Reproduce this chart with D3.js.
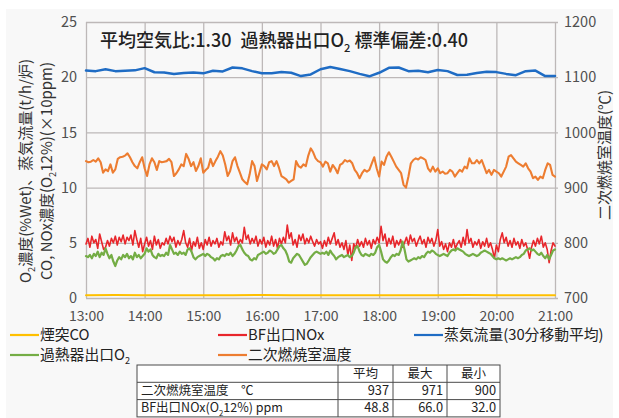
<!DOCTYPE html>
<html>
<head>
<meta charset="utf-8">
<script src="https://cdn.jsdelivr.net/npm/d3@7"></script>
<style>
  html, body { margin: 0; padding: 0; background: #ffffff; }
  svg { display: block; }
  text { font-family: "Noto Sans CJK JP", "Noto Sans", sans-serif; }
</style>
</head>
<body>
<svg id="chart" width="619" height="418"></svg>
<script>
// ---- data -------------------------------------------------------------
const hourLabels = ["13:00", "14:00", "15:00", "16:00", "17:00", "18:00", "19:00", "20:00", "21:00"];
const leftTicks = [0, 5, 10, 15, 20, 25];
const rightTicks = [700, 800, 900, 1000, 1100, 1200];

// 二次燃焼室温度 (℃), every 2.5 min from 13:00
const tempStep = 2.5;
const tempC = [
  948, 946, 947, 950, 947, 953, 946, 927, 933, 930, 942, 927, 933, 952, 955, 956, 958, 962, 955, 946,
  939, 935, 946, 955, 935, 921, 942, 953, 946, 932, 948, 946, 947, 948, 952, 946, 921, 926, 933, 942,
  939, 961, 952, 939, 946, 930, 939, 953, 927, 932, 936, 952, 939, 948, 956, 966, 958, 942, 921, 930,
  948, 955, 939, 927, 915, 910, 906, 924, 948, 939, 912, 927, 942, 939, 933, 946, 948, 939, 948, 936,
  921, 918, 915, 909, 912, 915, 948, 939, 936, 942, 939, 958, 971, 964, 953, 948, 946,
  938, 947, 944, 929, 941, 935, 926, 941, 944, 950, 947, 949, 944, 932, 926, 917, 926, 932, 929, 932,
  944, 955, 935, 920, 947, 941, 956, 964, 956, 947, 938, 932, 926, 905, 900, 920, 944, 950, 953, 951,
  955, 953, 950, 935, 929, 938, 929, 935, 926, 929, 925, 926, 932, 929, 920, 926, 932, 929, 938, 935,
  953, 944, 944, 950, 944, 950, 938, 926, 932, 923, 932, 929, 926, 920, 929, 938, 956, 959, 953, 947,
  944, 941, 938, 944, 935, 929, 917, 920, 914, 920, 917, 932, 944, 941, 923, 920
];

// BF出口NOx (×10 ppm, O2 12%), every 2 min
const noxStep = 2;
const noxX10 = [
  4.9, 5.4, 4.6, 5.6, 5.0, 5.3, 4.5, 5.8, 5.1, 4.4, 4.6,
  5.2, 4.7, 5.4, 5.0, 5.6, 4.8, 5.5, 5.1, 5.7, 4.9,
  5.5, 5.2, 5.7, 4.8, 6.1, 5.3, 4.6, 5.4, 4.2, 4.9,
  5.5, 4.7, 5.2, 4.4, 5.6, 4.8, 5.3, 4.5, 5.0, 4.8,
  5.4, 4.9, 5.6, 5.1, 5.5, 4.6, 5.2, 4.8, 5.3, 6.1,
  5.0, 4.6, 5.4, 4.3, 5.1, 4.7, 5.5, 4.5, 5.0, 4.4,
  5.3, 4.8, 5.5, 4.7, 5.2, 4.9, 5.4, 4.6, 5.1, 4.8,
  6.0, 5.2, 5.6, 4.8, 5.9, 5.1, 5.5, 4.9, 5.3, 5.0,
  6.4, 5.3, 5.7, 4.9, 5.4, 5.0, 5.6, 4.7, 5.3, 4.9,
  5.5, 4.6, 5.2, 4.8, 5.6, 4.7, 5.3, 4.5, 5.4, 4.9,
  5.5, 5.0, 6.6, 5.4, 5.9, 4.8, 5.3, 4.6, 5.7, 5.2,
  5.8, 4.9, 5.4, 5.0, 5.6, 5.1, 4.7, 5.3, 4.9, 5.1,
  4.5, 5.2, 4.7, 5.5, 4.9, 5.4, 5.9, 4.8, 5.3, 4.6,
  5.0, 4.4, 5.2, 3.9, 4.8, 3.4, 4.9, 4.5, 5.3, 4.7,
  5.1, 4.6, 5.4, 4.8, 5.2, 4.5, 5.3, 4.9, 5.5, 5.0,
  6.5, 5.2, 5.8, 4.7, 5.4, 4.9, 5.6, 4.6, 5.2, 4.8,
  5.3, 4.6, 5.0, 5.5, 4.8, 5.7, 5.1, 5.4, 4.7, 5.2,
  5.6, 4.9, 5.3, 4.6, 5.5, 5.0, 5.4, 4.7, 5.2, 6.2,
  4.7, 5.1, 4.4, 4.9, 4.2, 5.0, 4.6, 5.3, 4.5, 4.9,
  5.2, 4.6, 5.5, 4.8, 6.2, 5.0, 5.4, 4.6, 5.1, 4.8,
  5.3, 4.5, 5.1, 4.7, 5.4, 4.6, 5.0, 4.4, 3.6, 4.8,
  4.2, 5.3, 5.9, 5.0, 5.5, 4.7, 5.2, 4.6, 5.4, 4.8,
  5.1, 4.5, 5.3, 4.7, 5.0, 4.4, 3.6, 4.6, 5.2, 4.7,
  5.4, 4.9, 5.6, 4.6, 5.0, 4.4, 3.2, 4.3, 5.0, 4.7
];

// 過熱器出口O2 (%Wet), every 2 min
const o2Step = 2;
const o2Pct = [
  3.8, 3.7, 3.9, 3.6, 4.0, 3.8, 4.2, 3.7, 4.1, 3.9, 4.5,
  4.0, 3.6, 3.9, 3.3, 2.9, 3.4, 3.7, 3.5, 3.9, 3.7,
  4.0, 3.6, 3.8, 3.5, 4.1, 3.7, 3.9, 3.6, 3.8, 4.0,
  4.5, 4.2, 4.4, 3.9, 3.7, 3.6, 4.0, 3.8, 3.9, 3.8,
  4.1, 3.9, 4.8, 4.4, 4.0, 4.1, 3.9, 4.2, 4.0, 4.1,
  3.9, 4.4, 4.5, 4.2, 3.7, 3.5, 3.7, 3.8, 3.9, 4.0,
  3.8, 4.0, 3.9, 3.7, 3.6, 3.4, 3.6, 3.5, 3.8, 3.9,
  3.8, 4.0, 3.9, 4.1, 3.8, 4.0, 4.3, 4.7, 4.8, 4.4,
  4.1, 3.9, 3.8, 3.5, 3.4, 3.6, 3.5, 3.9, 4.0, 4.1,
  4.2, 4.0, 4.1, 4.3, 4.2, 4.0, 4.1, 4.4, 4.7, 4.8,
  4.5, 4.3, 3.9, 3.3, 3.2, 3.6, 3.8, 4.0, 3.9, 3.6,
  3.3, 3.0, 3.1, 3.4, 3.7, 3.9, 4.1, 4.2, 4.1, 4.0,
  4.1, 4.0, 4.2, 3.9, 4.3, 4.0, 3.8, 3.5, 3.7, 3.8,
  3.9, 3.7, 3.8, 3.9, 3.7, 3.8, 4.1, 4.6, 4.7, 4.2,
  3.9, 3.8, 4.0, 3.9, 3.8, 4.0, 3.9, 4.1, 4.6, 4.8,
  4.2, 3.5, 3.3, 3.2, 3.4, 3.7, 3.9, 3.8, 4.0, 3.9,
  4.3, 5.1, 4.4, 3.5, 3.3, 3.4, 3.5, 3.6, 3.5, 3.7,
  3.6, 3.8, 3.7, 4.0, 4.2, 4.1, 4.3, 4.2, 4.0, 3.9,
  3.8, 3.9, 4.0, 3.9, 3.8, 4.1, 4.3, 4.4, 4.3, 4.5,
  4.4, 4.3, 4.2, 4.0, 3.9, 3.8, 3.9, 4.0, 3.9, 3.8,
  3.9, 4.1, 4.2, 4.3, 4.2, 4.1, 4.0, 3.8, 3.6, 3.5,
  3.6, 3.5, 3.6, 3.5, 3.4, 3.5, 3.6, 3.5, 3.6, 3.7,
  3.6, 3.7, 3.9, 4.0, 4.3, 4.4, 4.5, 4.3, 4.4, 4.2,
  4.0, 3.9, 4.1, 3.8, 3.6, 3.9, 3.5, 3.9, 4.3, 4.4
];

// 蒸気流量 (t/h/炉, 30分移動平均), every 10 min
const steamStep = 10;
const steamFlow = [
  20.60, 20.55, 20.72, 20.55, 20.58, 20.62, 20.82, 20.45, 20.42, 20.28,
  20.38, 20.42, 20.35, 20.58, 20.52, 20.88, 20.80, 20.55, 20.35, 20.35,
  20.48, 20.40, 20.10, 20.25, 20.72, 20.92, 20.75, 20.55, 20.30, 20.08,
  20.40, 20.85, 20.88, 20.55, 20.58, 20.45, 20.66, 20.55, 20.20, 20.22,
  20.38, 20.50, 20.46, 20.30, 20.18, 20.55, 20.60, 20.10, 20.10
];

// 煙突CO (×10 ppm), every 30 min
const coStep = 30;
const coX10 = [0.25, 0.27, 0.25, 0.26, 0.24, 0.26, 0.27, 0.25, 0.26, 0.25, 0.24, 0.26, 0.25, 0.27, 0.25, 0.26, 0.25];

const seriesNames = ["煙突CO", "BF出口NOx", "蒸気流量(30分移動平均)", "過熱器出口O₂", "二次燃焼室温度"];
const seriesColors = ["#ffc000", "#e8262b", "#1f6cc4", "#74ad45", "#ed7d31"];

const titleText = "平均空気比:1.30\u2002過熱器出口O₂ 標準偏差:0.40";
const leftTitle = ["O₂濃度(%Wet)、蒸気流量(t/h/炉)", "CO, NOx濃度(O₂12%)(×10ppm)"];
const rightTitle = "二次燃焼室温度(℃)";

const tableHeader = ["", "平均", "最大", "最小"];
const tableRows = [
  ["二次燃焼室温度\u3000℃", "937", "971", "900"],
  ["BF出口NOx(O₂12%) ppm", "48.8", "66.0", "32.0"]
];

// ---- helpers ----------------------------------------------------------
// writes a string into a <text>, turning "₂" into a lowered small "2"
function richText(sel, str, size) {
  const segs = str.split("₂");
  const d = size * 0.28;
  let pending = 0;
  segs.forEach((seg, i) => {
    if (seg) {
      const t = sel.append("tspan").text(seg);
      if (pending) { t.attr("dy", pending); pending = 0; }
    }
    if (i < segs.length - 1) {
      sel.append("tspan").attr("font-size", size * 0.62).attr("dy", d + pending).text("2");
      pending = -d;
    }
  });
}

// ---- layout -----------------------------------------------------------
const svg = d3.select("#chart");
const W = 619, H = 418;
const plot = { left: 86, right: 555, top: 22, bottom: 298 };

svg.append("rect").attr("x", 6).attr("y", 9).attr("width", W - 12).attr("height", H - 9).attr("fill", "#f8f8f8");

const x = d3.scaleLinear().domain([0, 480]).range([plot.left, plot.right]);
const yL = d3.scaleLinear().domain([0, 25]).range([plot.bottom, plot.top]);
const yR = d3.scaleLinear().domain([700, 1200]).range([plot.bottom, plot.top]);

const gridColor = "#bdb8b8";
const labelColor = "#505050";
const tickFont = "'Noto Sans CJK JP', sans-serif";

// horizontal grid + left labels
const gLeft = svg.append("g").attr("transform", `translate(${plot.left},0)`)
  .call(d3.axisLeft(yL).tickValues(leftTicks).tickSize(-(plot.right - plot.left + 3)).tickPadding(9));
gLeft.select(".domain").remove();
gLeft.selectAll(".tick line").attr("stroke", gridColor).attr("stroke-width", 1.3);
gLeft.selectAll(".tick text").attr("fill", labelColor).attr("font-size", 14.5).attr("font-family", tickFont);

// right labels
const gRight = svg.append("g").attr("transform", `translate(${plot.right},0)`)
  .call(d3.axisRight(yR).tickValues(rightTicks).tickFormat(d3.format("d")).tickSize(0).tickPadding(9));
gRight.select(".domain").remove();
gRight.selectAll(".tick text").attr("fill", labelColor).attr("font-size", 14.5).attr("font-family", tickFont);

// vertical grid + hour labels
const gBottom = svg.append("g").attr("transform", `translate(0,${plot.bottom})`)
  .call(d3.axisBottom(x).tickValues(hourLabels.map((_, i) => i * 60))
    .tickFormat((d, i) => hourLabels[i]).tickSize(-(plot.bottom - plot.top)).tickPadding(13));
gBottom.select(".domain").remove();
gBottom.selectAll(".tick line").attr("stroke", gridColor).attr("stroke-width", 1.3);
gBottom.selectAll(".tick text").attr("fill", labelColor).attr("font-size", 14).attr("font-family", tickFont);

// ---- series -----------------------------------------------------------
function drawSeries(values, step, yScale, color, width) {
  const line = d3.line().x((d, i) => x(i * step)).y(d => yScale(d));
  svg.append("path").datum(values).attr("d", line)
    .attr("fill", "none").attr("stroke", color).attr("stroke-width", width)
    .attr("stroke-linejoin", "round").attr("stroke-linecap", "round");
}
drawSeries(noxX10, noxStep, yL, seriesColors[1], 1.6);
drawSeries(o2Pct, o2Step, yL, seriesColors[3], 2.2);
drawSeries(tempC, tempStep, yR, seriesColors[4], 2.1);
drawSeries(steamFlow, steamStep, yL, seriesColors[2], 2.5);
drawSeries(coX10, coStep, yL, seriesColors[0], 2);

// ---- titles -----------------------------------------------------------
const title = svg.append("text").attr("x", 100).attr("y", 47)
  .attr("font-size", 18).attr("font-weight", 500).attr("fill", "#222");
richText(title, titleText, 18);

leftTitle.forEach((s, i) => {
  const t = svg.append("text")
    .attr("transform", `translate(${31 + i * 21},171) rotate(-90)`)
    .attr("text-anchor", "middle").attr("font-size", 15).attr("fill", "#333");
  richText(t, s, 15);
});

svg.append("text")
  .attr("transform", "translate(610,155) rotate(-90)")
  .attr("text-anchor", "middle").attr("font-size", 15).attr("fill", "#333")
  .text(rightTitle);

// ---- legend -----------------------------------------------------------
const legendPos = [
  { x: 10, y: 335 }, { x: 218, y: 335 }, { x: 414, y: 335 },
  { x: 10, y: 355 }, { x: 218, y: 355 }
];
seriesNames.forEach((name, i) => {
  const p = legendPos[i];
  svg.append("line").attr("x1", p.x).attr("x2", p.x + 29).attr("y1", p.y).attr("y2", p.y)
    .attr("stroke", seriesColors[i]).attr("stroke-width", 2.2);
  const t = svg.append("text").attr("x", p.x + 30).attr("y", p.y + 5.2)
    .attr("font-size", 14.8).attr("fill", "#222");
  richText(t, name, 14.8);
});

// ---- summary table ----------------------------------------------------
const colEdges = [137, 338, 393, 447, 500];
const rowTop = 365, rowH = 17.3;
const tg = svg.append("g");
const nRows = tableRows.length + 1;
tg.append("rect").attr("x", colEdges[0]).attr("y", rowTop)
  .attr("width", colEdges[4] - colEdges[0]).attr("height", rowH * nRows)
  .attr("fill", "#ffffff").attr("stroke", "#4a4a4a").attr("stroke-width", 1);
for (let r = 1; r < nRows; r++) {
  tg.append("line").attr("x1", colEdges[0]).attr("x2", colEdges[4])
    .attr("y1", rowTop + r * rowH).attr("y2", rowTop + r * rowH)
    .attr("stroke", "#4a4a4a").attr("stroke-width", 1);
}
for (let c = 1; c < 4; c++) {
  tg.append("line").attr("x1", colEdges[c]).attr("x2", colEdges[c])
    .attr("y1", rowTop).attr("y2", rowTop + rowH * nRows)
    .attr("stroke", "#4a4a4a").attr("stroke-width", 1);
}
const cellFont = 12.5;
tableHeader.forEach((h, c) => {
  if (!h) return;
  tg.append("text").attr("x", (colEdges[c] + colEdges[c + 1]) / 2).attr("y", rowTop + rowH - 4.5)
    .attr("text-anchor", "middle").attr("font-size", cellFont).attr("fill", "#222").text(h);
});
tableRows.forEach((row, r) => {
  const yb = rowTop + (r + 2) * rowH - 4.5;
  const lt = tg.append("text").attr("x", colEdges[0] + 4).attr("y", yb)
    .attr("font-size", cellFont).attr("fill", "#222");
  richText(lt, row[0], cellFont);
  for (let c = 1; c < 4; c++) {
    tg.append("text").attr("x", colEdges[c + 1] - 4).attr("y", yb)
      .attr("text-anchor", "end").attr("font-size", 12.8).attr("fill", "#222").text(row[c]);
  }
});
</script>
</body>
</html>
